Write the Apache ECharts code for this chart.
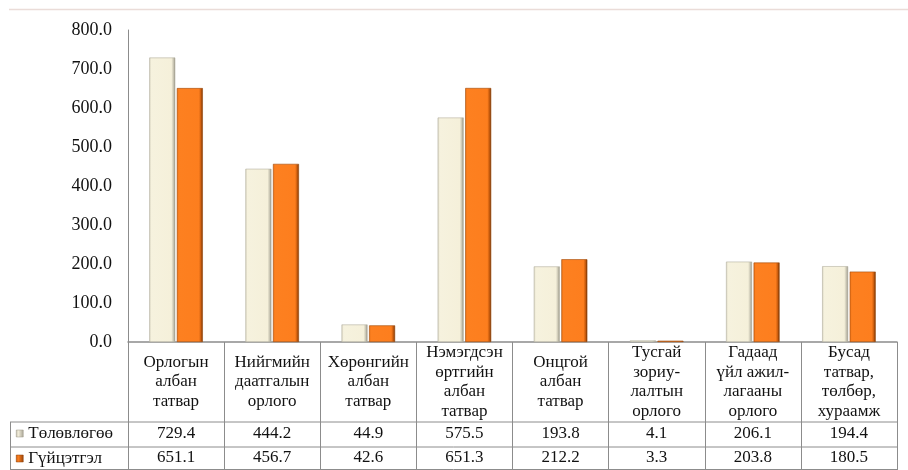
<!DOCTYPE html>
<html>
<head>
<meta charset="utf-8">
<script src="https://cdn.jsdelivr.net/npm/echarts@6/dist/echarts.min.js"></script>
<style>
html,body{margin:0;padding:0;background:#fff;}
#c{width:908px;height:470px;}
</style>
</head>
<body>
<div id="c"></div>
<script>
const categories = [
  'Орлогын\nалбан\nтатвар',
  'Нийгмийн\nдаатгалын\nорлого',
  'Хөрөнгийн\nалбан\nтатвар',
  'Нэмэгдсэн\nөртгийн\nалбан\nтатвар',
  'Онцгой\nалбан\nтатвар',
  'Тусгай\nзориу-\nлалтын\nорлого',
  'Гадаад\nүйл ажил-\nлагааны\nорлого',
  'Бусад\nтатвар,\nтөлбөр,\nхураамж'
];
const seriesNames = ['Төлөвлөгөө', 'Гүйцэтгэл'];
const plan = [729.4, 444.2, 44.9, 575.5, 193.8, 4.1, 206.1, 194.4];
const actual = [651.1, 456.7, 42.6, 651.3, 212.2, 3.3, 203.8, 180.5];
const yTicks = [0, 100, 200, 300, 400, 500, 600, 700, 800];

const FONT = '"Liberation Serif", "DejaVu Serif", serif';
const GL = 128, GR = 11, GT = 30, GB = 128;
const W = 908, H = 470;
const axisY = H - GB;          // 342
const row1Top = axisY + 80;    // 422
const row2Top = row1Top + 25;  // 447
const lineColor = '#8c8c8c';

function grad(stops){
  return new echarts.graphic.LinearGradient(0,0,1,0,stops.map((c)=>({offset:c[0],color:c[1]})));
}
const creamFill = grad([[0,'#d8d4c0'],[0.08,'#f6f2de'],[0.85,'#f5f0da'],[0.93,'#c9c5b3'],[1,'#8d8a7c']]);
const orangeFill = grad([[0,'#e86f14'],[0.08,'#fd8020'],[0.85,'#fd7e1e'],[0.93,'#c75a0c'],[1,'#5e2c06']]);
const creamIcon = grad([[0,'#bdb9a8'],[0.3,'#f3eedb'],[1,'#a9a596']]);
const orangeIcon = grad([[0,'#c85a0a'],[0.3,'#fd8020'],[1,'#9a440a']]);

const chart = echarts.init(document.getElementById('c'), null, {renderer:'canvas'});

const valueAxis = (arr, margin) => ({
  type:'category', data: categories, position:'bottom', gridIndex:0,
  axisLine:{show:false}, axisTick:{show:false},
  axisLabel:{interval:0, margin: margin, verticalAlign:'middle',
    fontFamily:FONT, fontSize:17, color:'#111',
    formatter:(v, i)=> arr[i].toFixed(1)}
});

const legendItem = (name, icon, border, top) => ({
  data:[{name:name, itemStyle:{color:icon, borderColor:border, borderWidth:0.5}}],
  orient:'horizontal', left:16, top: top, padding:0,
  itemWidth:7, itemHeight:7, icon:'rect',
  textStyle:{fontFamily:FONT, fontSize:17, color:'#111', padding:[0,0,0,0]}
});

chart.setOption({
  animation:false,
  backgroundColor:'#fff',
  grid:{left:GL, right:GR, top:GT, bottom:GB, containLabel:false},
  legend:[
    legendItem(seriesNames[0], creamIcon, '#9a9686', row1Top + 3),
    legendItem(seriesNames[1], orangeIcon, '#8a3c06', row2Top + 3)
  ],
  xAxis:[
    {
      type:'category', data: categories,
      axisLine:{show:true, lineStyle:{color:lineColor, width:1.5}},
      axisTick:{show:true, interval:0, length: GB, lineStyle:{color:lineColor, width:1}},
      axisLabel:{interval:0, margin:40, verticalAlign:'middle', lineHeight:19.5,
        fontFamily:FONT, fontSize:17, color:'#111'}
    },
    valueAxis(plan, 92),
    valueAxis(actual, 116)
  ],
  yAxis:{
    type:'value', min:yTicks[0], max:yTicks[yTicks.length-1], interval:100,
    axisLine:{show:true, lineStyle:{color:lineColor, width:1}},
    axisTick:{show:false}, splitLine:{show:false},
    axisLabel:{margin:16, fontFamily:FONT, fontSize:18, color:'#111',
      formatter:v=>v.toFixed(1)}
  },
  series:[
    {name:seriesNames[0], type:'bar', data:plan, barWidth:26, barGap:'6%',
      itemStyle:{color:creamFill, borderColor:'#b4b09f', borderWidth:0.6}},
    {name:seriesNames[1], type:'bar', data:actual, barWidth:26,
      itemStyle:{color:orangeFill, borderColor:'#a04a0a', borderWidth:0.6}}
  ],
  graphic:[
    {type:'line', shape:{x1:9, y1:9.5, x2:W, y2:9.5}, style:{stroke:'#eadcd8', lineWidth:1.5}, silent:true},
    {type:'line', shape:{x1:10, y1:row1Top, x2:W-GR, y2:row1Top}, style:{stroke:lineColor, lineWidth:1}, silent:true},
    {type:'line', shape:{x1:10, y1:row2Top, x2:W-GR, y2:row2Top}, style:{stroke:lineColor, lineWidth:1}, silent:true},
    {type:'line', shape:{x1:10.5, y1:row1Top, x2:10.5, y2:H}, style:{stroke:lineColor, lineWidth:1}, silent:true},
    {type:'line', shape:{x1:10, y1:H-0.5, x2:W-GR, y2:H-0.5}, style:{stroke:lineColor, lineWidth:1}, silent:true}
  ]
});
</script>
</body>
</html>
